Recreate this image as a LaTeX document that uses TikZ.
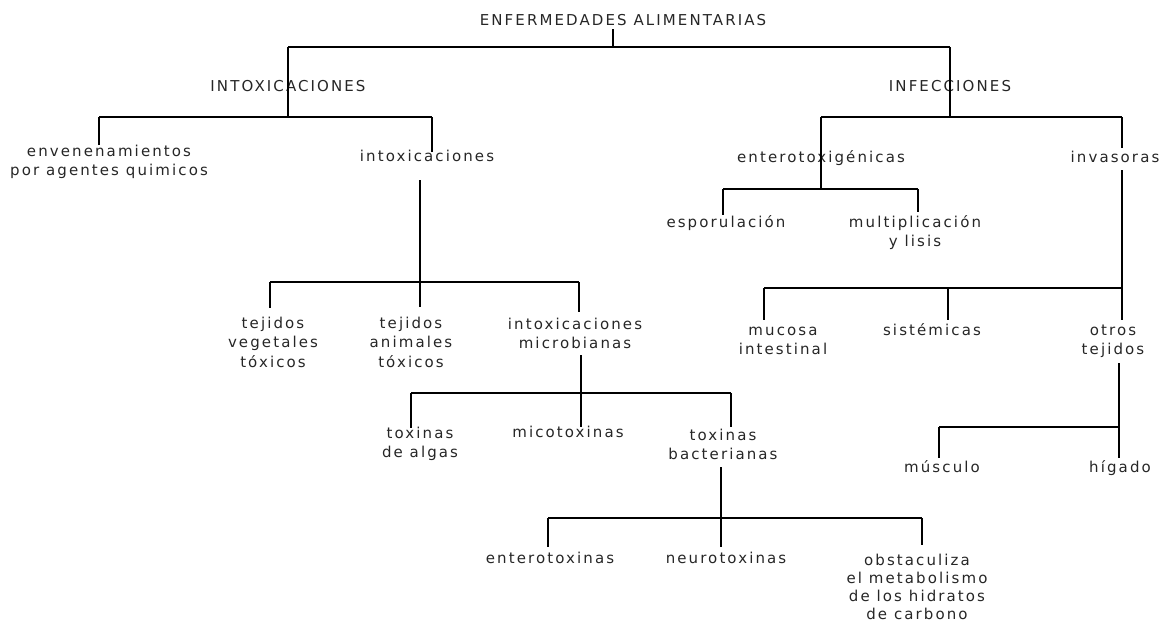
\documentclass[tikz,border=0pt]{standalone}
\usepackage{fontspec}
\newfontfamily\tfont[LetterSpace=14]{DejaVu Sans}
\begin{document}
\begin{tikzpicture}[x=1pt,y=-1pt,
  lbl/.style={inner sep=0pt, align=center, anchor=north, yshift=13.65pt,
    text=black!85, font=\tfont\fontsize{15}{19.5}\selectfont},
  lblb/.style={inner sep=0pt, align=center, anchor=north, yshift=12.6pt,
    text=black!85, font=\tfont\fontsize{15}{18}\selectfont},
  conn/.style={draw=black, line width=1.1pt}]
\useasboundingbox (0,0) rectangle (1162,622);

% ---------- labels ----------
\node[lbl] (root)  at (623,25)  {\strut ENFERMEDADES ALIMENTARIAS};
\node[lbl] (intox) at (288,91)  {\strut INTOXICACIONES};
\node[lbl] (infec) at (950,91)  {\strut INFECCIONES};
\node[lbl] (enven) at (109,156) {\strut envenenamientos\\por agentes quimicos};
\node[lbl] (intoxl) at (427,161) {\strut intoxicaciones};
\node[lbl] (entg)  at (821,162) {\strut enterotoxigénicas};
\node[lbl] (inv)   at (1115,162) {\strut invasoras};
\node[lbl] (espo)  at (726,227) {\strut esporulación};
\node[lbl] (mult)  at (915,227) {\strut multiplicación\\y lisis};
\node[lbl] (tveg)  at (273,328) {\strut tejidos\\vegetales\\tóxicos};
\node[lbl] (tani)  at (411,328) {\strut tejidos\\animales\\tóxicos};
\node[lbl] (imic)  at (575,329) {\strut intoxicaciones\\microbianas};
\node[lbl] (muc)   at (783,335) {\strut mucosa\\intestinal};
\node[lbl] (sist)  at (932,335) {\strut sistémicas};
\node[lbl] (otros) at (1113,335) {\strut otros\\tejidos};
\node[lbl] (talg)  at (420,438) {\strut toxinas\\de algas};
\node[lbl] (mico)  at (568,437) {\strut micotoxinas};
\node[lbl] (tbac)  at (723,440) {\strut toxinas\\bacterianas};
\node[lbl] (musc)  at (942,472) {\strut músculo};
\node[lbl] (hig)   at (1120,472) {\strut hígado};
\node[lbl] (ento)  at (550,563) {\strut enterotoxinas};
\node[lbl] (neur)  at (726,563) {\strut neurotoxinas};
\node[lblb] (obst) at (917,565) {\strut obstaculiza\\el metabolismo\\de los hidratos\\de carbono};

% ---------- connector points ----------
\coordinate (root-s) at (613,29);
\coordinate (root-b) at (613,47);
\coordinate (b1L) at (288,47);
\coordinate (b1R) at (950,47);

\coordinate (intox-b) at (288,117);
\coordinate (b2L-l) at (99,117);
\coordinate (b2L-r) at (432,117);
\coordinate (enven-t) at (99,145);
\coordinate (intoxl-t) at (432,152);
\coordinate (intoxl-s) at (420,180);
\coordinate (b3L-m) at (420,282);
\coordinate (b3L-l) at (270,282);
\coordinate (b3L-r) at (579,282);
\coordinate (tveg-t) at (270,308);
\coordinate (tani-t) at (420,307);
\coordinate (imic-t) at (579,312);
\coordinate (imic-s) at (581,355);
\coordinate (b4-m) at (581,393);
\coordinate (b4-l) at (411,393);
\coordinate (b4-r) at (731,393);
\coordinate (talg-t) at (411,428);
\coordinate (mico-t) at (581,427);
\coordinate (tbac-t) at (731,427);
\coordinate (tbac-s) at (721,467);
\coordinate (b5-m) at (721,518);
\coordinate (b5-l) at (548,518);
\coordinate (b5-r) at (922,518);
\coordinate (ento-t) at (548,547);
\coordinate (neur-t) at (721,547);
\coordinate (obst-t) at (922,545);

\coordinate (infec-b) at (950,117);
\coordinate (b2R-l) at (821,117);
\coordinate (b2R-r) at (1122,117);
\coordinate (entg-b) at (821,189);
\coordinate (b3R-l) at (723,189);
\coordinate (b3R-r) at (918,189);
\coordinate (espo-t) at (723,215);
\coordinate (mult-t) at (918,212);
\coordinate (inv-t) at (1122,148);
\coordinate (inv-s) at (1122,170);
\coordinate (b6-r) at (1122,288);
\coordinate (b6-l) at (764,288);
\coordinate (b6-m) at (948,288);
\coordinate (muc-t) at (764,320);
\coordinate (sist-t) at (948,320);
\coordinate (otros-t) at (1122,320);
\coordinate (otros-s) at (1119,363);
\coordinate (b7-r) at (1119,427);
\coordinate (b7-l) at (939,427);
\coordinate (musc-t) at (939,458);
\coordinate (hig-t) at (1119,458);

% ---------- connectors ----------
\draw[conn] (root-s) -- (root-b);
\draw[conn] (b1L) -- (b1R);
\draw[conn] (b1L) -- (intox-b);
\draw[conn] (b2L-l) -- (b2L-r);
\draw[conn] (b2L-l) -- (enven-t);
\draw[conn] (b2L-r) -- (intoxl-t);
\draw[conn] (intoxl-s) -- (tani-t);
\draw[conn] (b3L-l) -- (b3L-r);
\draw[conn] (b3L-l) -- (tveg-t);
\draw[conn] (b3L-r) -- (imic-t);
\draw[conn] (imic-s) -- (mico-t);
\draw[conn] (b4-l) -- (b4-r);
\draw[conn] (b4-l) -- (talg-t);
\draw[conn] (b4-r) -- (tbac-t);
\draw[conn] (tbac-s) -- (neur-t);
\draw[conn] (b5-l) -- (b5-r);
\draw[conn] (b5-l) -- (ento-t);
\draw[conn] (b5-r) -- (obst-t);

\draw[conn] (b1R) -- (infec-b);
\draw[conn] (b2R-l) -- (b2R-r);
\draw[conn] (b2R-l) -- (entg-b);
\draw[conn] (b3R-l) -- (b3R-r);
\draw[conn] (b3R-l) -- (espo-t);
\draw[conn] (b3R-r) -- (mult-t);
\draw[conn] (b2R-r) -- (inv-t);
\draw[conn] (inv-s) -- (otros-t);
\draw[conn] (b6-l) -- (b6-r);
\draw[conn] (b6-l) -- (muc-t);
\draw[conn] (b6-m) -- (sist-t);
\draw[conn] (otros-s) -- (hig-t);
\draw[conn] (b7-l) -- (b7-r);
\draw[conn] (b7-l) -- (musc-t);
\end{tikzpicture}
\end{document}
